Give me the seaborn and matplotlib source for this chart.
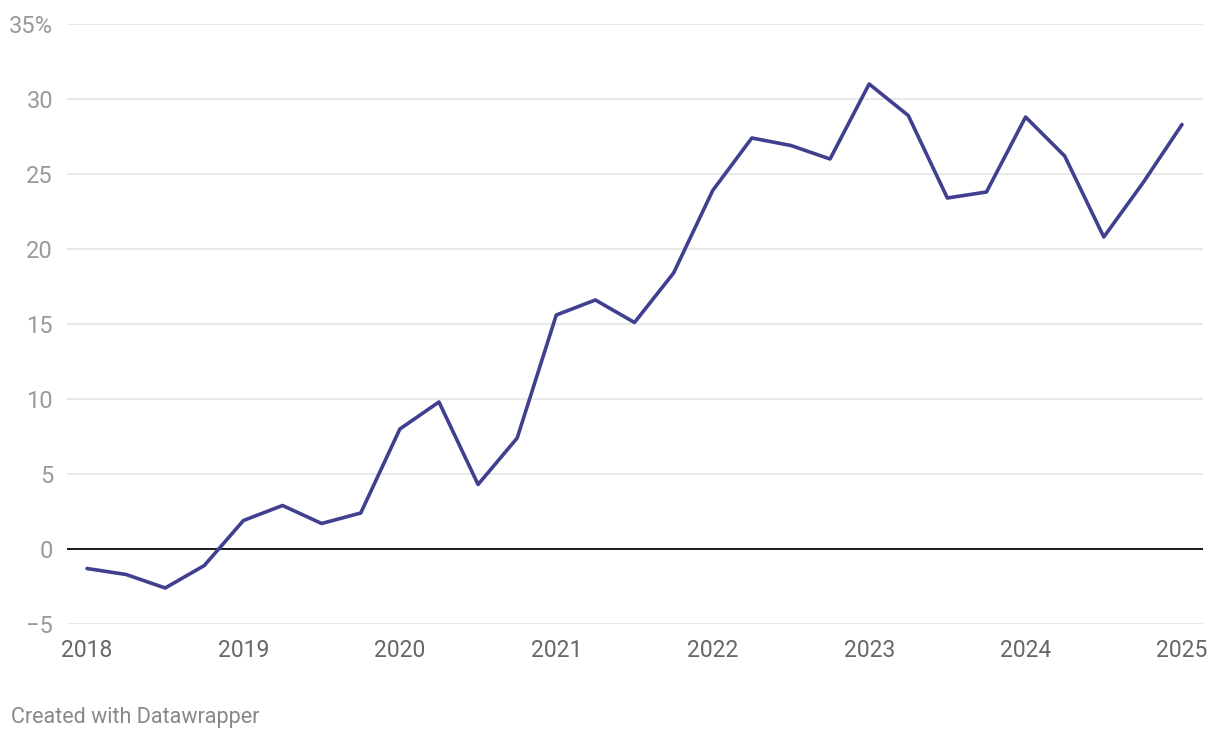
import matplotlib
matplotlib.use("Agg")
import matplotlib.pyplot as plt
import seaborn as sns
import pandas as pd

# Quarterly data
years = [2018.0, 2018.25, 2018.5, 2018.75,
         2019.0, 2019.25, 2019.5, 2019.75,
         2020.0, 2020.25, 2020.5, 2020.75,
         2021.0, 2021.25, 2021.5, 2021.75,
         2022.0, 2022.25, 2022.5, 2022.75,
         2023.0, 2023.25, 2023.5, 2023.75,
         2024.0, 2024.25, 2024.5, 2024.75,
         2025.0]
values = [-1.3, -1.7, -2.6, -1.1,
          1.9, 2.9, 1.7, 2.4,
          8.0, 9.8, 4.3, 7.4,
          15.6, 16.6, 15.1, 18.4,
          23.9, 27.4, 26.9, 26.0,
          31.0, 28.9, 23.4, 23.8,
          28.8, 26.2, 20.8, 24.4,
          28.3]
x_ticks = [2018, 2019, 2020, 2021, 2022, 2023, 2024, 2025]
x_labels = ["2018", "2019", "2020", "2021", "2022", "2023", "2024", "2025"]
y_ticks = [-5, 0, 5, 10, 15, 20, 25, 30, 35]
y_labels = ["\u22125", "0", "5", "10", "15", "20", "25", "30", "35%"]

df = pd.DataFrame({"year": years, "value": values})

sns.set_theme(style="white")
plt.rcParams["font.family"] = ["Roboto", "DejaVu Sans"]

W, H = 1220, 740
fig = plt.figure(figsize=(W / 100, H / 100), dpi=100)
left, right, top, bottom = 67, 1203, 24, 624
ax = fig.add_axes([left / W, 1 - bottom / H, (right - left) / W, (bottom - top) / H])

# gridlines
for yt in y_ticks:
    if yt == 0:
        continue
    ax.axhline(yt, color="#e3e3e3", lw=1.1, zorder=0)
ax.axhline(0, color="#1a1a1a", lw=1.4, zorder=1)

sns.lineplot(data=df, x="year", y="value", ax=ax, color="#40408f", lw=2.6,
             zorder=3, clip_on=False)

px_per_year = (1182 - 87) / 7
ax.set_xlim(2018 - (87 - left) / px_per_year, 2025 + (right - 1182) / px_per_year)
ax.set_ylim(-5, 35)

ax.set_xticks(x_ticks)
ax.set_xticklabels(x_labels, fontsize=16.5, color="#666666")
ax.set_yticks(y_ticks)
ax.set_yticklabels(y_labels, fontsize=17, color="#9a9a9a")
ax.tick_params(axis="x", length=0, pad=11)
ax.tick_params(axis="y", length=0, pad=10)
for lab in ax.get_yticklabels():
    lab.set_horizontalalignment("right")

ax.set_xlabel("")
ax.set_ylabel("")
for s in ax.spines.values():
    s.set_visible(False)
ax.grid(False)

fig.text(11 / W, 1 - 717 / H, "Created with Datawrapper", fontsize=15.5,
         color="#888888", ha="left", va="center")

fig.savefig("out.png", dpi=100, facecolor="white")
